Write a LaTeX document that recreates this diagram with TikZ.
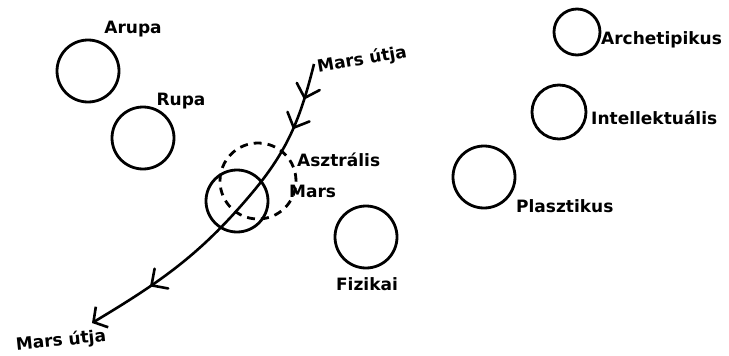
\documentclass[tikz,border=0pt]{standalone}
\usepackage{fontspec}
\setmainfont{DejaVu Sans}
\usetikzlibrary{positioning,arrows.meta,decorations.markings}
\tikzset{
  spBase/.style={
    font=\fontsize{17pt}{19pt}\selectfont\bfseries,
    inner sep=0pt,
    text=black
  },
  spSphere/.style={
    circle,
    draw=black,
    line width=2.8pt,
    inner sep=0pt,
    minimum size=62pt
  },
  spAstral/.style={
    spSphere,
    dash pattern=on 8pt off 6pt,
    minimum size=76pt
  },
  spLabel/.style={
    spBase,
    anchor=west
  },
  spChevron/.style={
    -,
    solid,
    line width=2.6pt,
    line cap=round,
    line join=round
  },
  spOrbit/.style={
    line width=2.6pt,
    -{Straight Barb[length=10pt,width=24pt,line width=2.6pt]},
    postaction={decorate},
    decoration={markings,
      mark=at position 0.10 with {\draw[spChevron] (-12pt,12pt) -- (0,0) -- (-12pt,-12pt);},
      mark=at position 0.19 with {\draw[spChevron] (-12pt,12pt) -- (0,0) -- (-12pt,-12pt);},
      mark=at position 0.80 with {\draw[spChevron] (-12pt,12pt) -- (0,0) -- (-12pt,-12pt);}}
  }
}

\begin{document}
\begin{tikzpicture}[x=1pt, y=-1pt]
  \useasboundingbox (0,0) rectangle (729,356);

  % spheres on the left
  \node (sArupa) [spSphere] at (88,71) {};
  \node (sRupa)  [spSphere] at (143,138) {};
  \node (lArupa) [spBase] at (133,29) {Arupa};
  \node (lRupa)  [spBase] at (181,101) {Rupa};

  % Mars and its astral body
  \node (sAstral) [spAstral] at (258,181) {};
  \node (sMars)   [spSphere] at (237,201) {};
  \node (lAstral) [spLabel] at (297,160) {Asztrális};
  \node (lMars)   [spLabel] at (289,191) {Mars};

  % spheres on the right
  \node (sFiz)   [spSphere] at (366,237) {};
  \node (sPlasz) [spSphere] at (484,177) {};
  \node (sInt)   [spSphere, minimum size=54pt] at (559,112) {};
  \node (sArch)  [spSphere, minimum size=46pt] at (577,32) {};
  \node (lFiz)   [spBase] at (367,284) {Fizikai};
  \node (lPlasz) [spLabel] at (516,206) {Plasztikus};
  \node (lInt)   [spLabel] at (591,118) {Intellektuális};
  \node (lArch)  [spLabel] at (601,40) {Archetipikus};

  % path of Mars
  \coordinate (mTop) at (314,64);
  \coordinate (mMid) at (252,193);
  \coordinate (mBot) at (92,323);
  \node (lTop) [spBase, rotate=10] at (362,60) {Mars útja};
  \node (lBot) [spBase, rotate=6] at (61,341) {Mars útja};
  \draw [spOrbit] (mTop) to[out=256, in=50] (mMid) to[out=230, in=31] (mBot);
\end{tikzpicture}
\end{document}
